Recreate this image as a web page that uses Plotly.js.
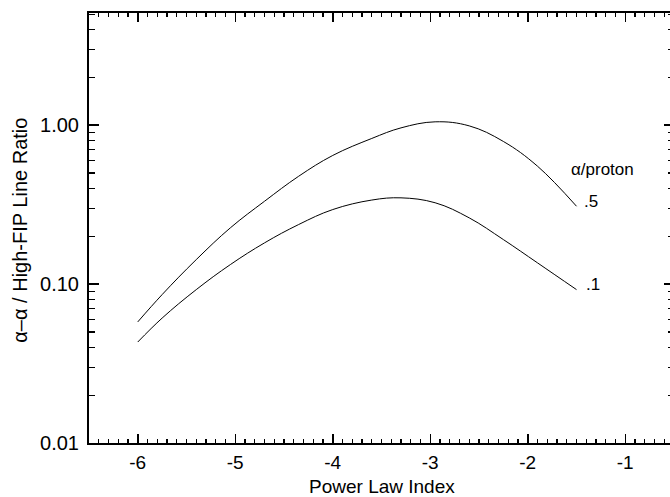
<!DOCTYPE html>
<html>
<head>
<meta charset="utf-8">
<script src="https://cdn.plot.ly/plotly-3.0.1.min.js"></script>
<style>
html,body{margin:0;padding:0;overflow:hidden;background:#fff;width:670px;height:497px;}
#chart{width:680px;height:497px;}
</style>
</head>
<body>
<div id="chart"></div>
<script>
// Data
const powerLawIndex = [-6.0, -5.75, -5.4, -5.05, -4.7, -4.35, -4.0, -3.6, -3.3, -2.95, -2.6, -2.25, -1.9, -1.5];
const ratioAlpha05 = [0.0578, 0.0859, 0.1426, 0.226, 0.332, 0.477, 0.645, 0.825, 0.962, 1.05, 0.99, 0.79, 0.552, 0.309];
const ratioAlpha01 = [0.0432, 0.0611, 0.0923, 0.1327, 0.1817, 0.237, 0.2945, 0.338, 0.349, 0.325, 0.261, 0.1906, 0.136, 0.0923];
const yTickVals = [0.01, 0.1, 1];
const yTickText = ['0.01', '0.10', '1.00'];
const yMinorVals = [0.02,0.03,0.04,0.05,0.06,0.07,0.08,0.09,0.2,0.3,0.4,0.5,0.6,0.7,0.8,0.9,2,3,4,5];
const xTickVals = [-6, -5, -4, -3, -2, -1];
const xTickText = ['-6', '-5', '-4', '-3', '-2', '-1'];
const seriesLabels = ['.5', '.1'];
const legendTitle = 'α/proton';
const xTitle = 'Power Law Index';
const yTitle = 'α–α / High-FIP Line Ratio';

const FONT = 'Liberation Sans, Arial, Helvetica, sans-serif';

const traces = [
  {x: powerLawIndex, y: ratioAlpha05, mode: 'lines', line: {color: '#000', width: 1, shape: 'spline', smoothing: 1.1}, showlegend: false, hoverinfo: 'none'},
  {x: powerLawIndex, y: ratioAlpha01, mode: 'lines', line: {color: '#000', width: 1, shape: 'spline', smoothing: 1.1}, showlegend: false, hoverinfo: 'none'}
];

const layout = {
  width: 680, height: 497,
  margin: {l: 89, r: 6, t: 13, b: 54},
  paper_bgcolor: '#fff', plot_bgcolor: '#fff',
  font: {family: FONT, color: '#000', size: 20},
  showlegend: false,
  xaxis: {
    range: [-6.5, -0.5],
    tickmode: 'array', tickvals: xTickVals, ticktext: xTickText,
    ticks: 'inside', ticklen: 9, tickwidth: 1.5, tickcolor: '#000',
    minor: {dtick: 0.1, tick0: 0, ticks: 'inside', ticklen: 4, tickwidth: 1.2, tickcolor: '#000', showgrid: false},
    showline: true, linecolor: '#000', linewidth: 2, mirror: 'ticks',
    showgrid: false, zeroline: false,
    tickfont: {family: FONT, size: 19, color: '#000'},
    ticklabelstandoff: 1
  },
  yaxis: {
    type: 'log',
    range: [-2, 0.706],
    tickmode: 'array', tickvals: yTickVals, ticktext: yTickText,
    ticks: 'inside', ticklen: 10, tickwidth: 1.5, tickcolor: '#000',
    minor: {tickmode: 'array', tickvals: yMinorVals, ticks: 'inside', ticklen: 6, tickwidth: 1.2, tickcolor: '#000', showgrid: false},
    showline: true, linecolor: '#000', linewidth: 2, mirror: 'ticks',
    showgrid: false, zeroline: false,
    tickfont: {family: FONT, size: 20, color: '#000'},
    ticklabelstandoff: 4
  },
  annotations: [
    {x: 0.5, y: 0, xref: 'paper', yref: 'paper', yshift: -55, text: xTitle, showarrow: false, xanchor: 'center', yanchor: 'bottom', borderpad: 0, font: {family: FONT, size: 19, color: '#000'}},
    {x: -0.118, y: 0.496, xref: 'paper', yref: 'paper', text: yTitle, textangle: -90, showarrow: false, xanchor: 'center', yanchor: 'middle', font: {family: FONT, size: 20, color: '#000'}},
    {x: -1.23, y: Math.log10(0.526), xref: 'x', yref: 'y', text: legendTitle, showarrow: false, font: {family: FONT, size: 17, color: '#000'}},
    {x: -1.35, y: Math.log10(0.332), xref: 'x', yref: 'y', text: seriesLabels[0], showarrow: false, font: {family: FONT, size: 17, color: '#000'}},
    {x: -1.335, y: Math.log10(0.0993), xref: 'x', yref: 'y', text: seriesLabels[1], showarrow: false, font: {family: FONT, size: 17, color: '#000'}}
  ]
};

Plotly.newPlot('chart', traces, layout, {displayModeBar: false, staticPlot: true});
</script>
</body>
</html>
